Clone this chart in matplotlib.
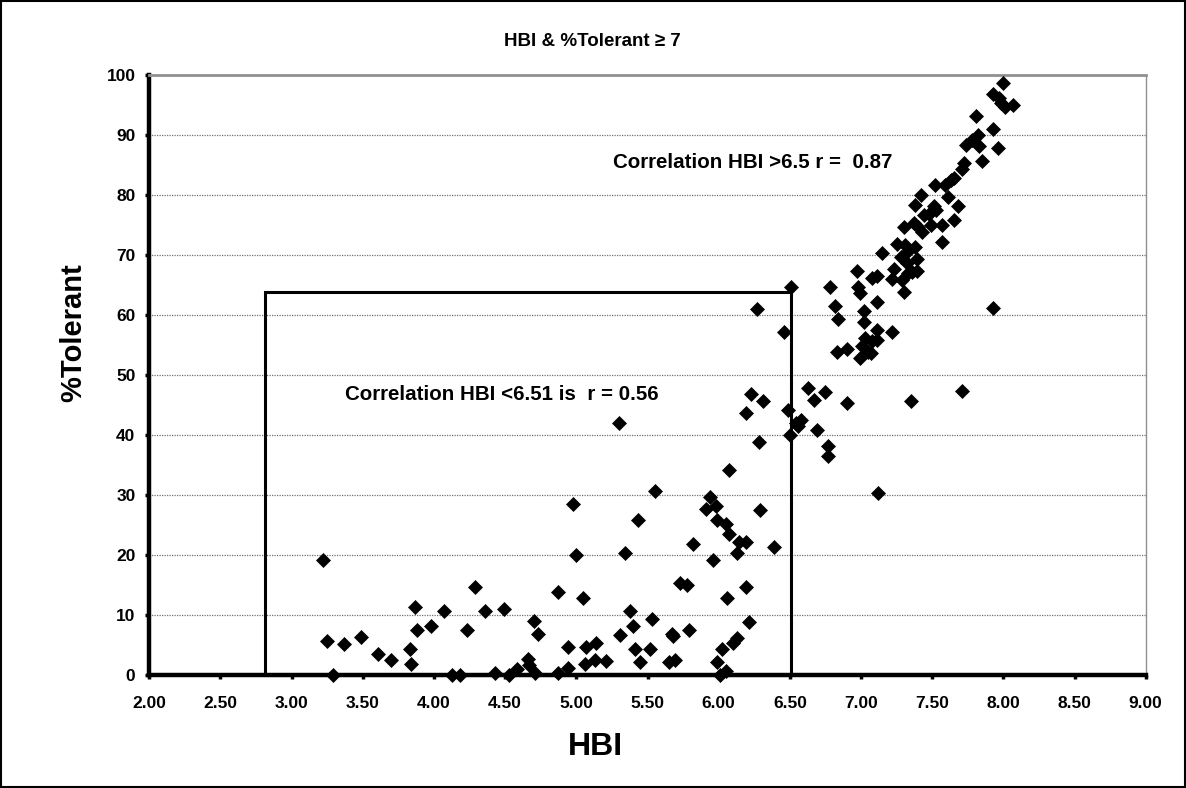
import matplotlib
matplotlib.use("Agg")
import matplotlib.pyplot as plt
from matplotlib.patches import Rectangle

plt.rcParams['font.family'] = ['Liberation Sans', 'DejaVu Sans']
plt.rcParams['font.weight'] = 'bold'

# ---- data ----
hbi = [3.22, 3.25, 3.29, 3.37, 3.49, 3.61, 3.70, 3.83, 3.84, 3.87, 3.88, 3.98, 4.07, 4.13, 4.18,
       4.23, 4.29, 4.36, 4.43, 4.49, 4.53, 4.58, 4.66, 4.67, 4.70, 4.71, 4.73, 4.87, 4.87, 4.94,
       4.94, 4.98, 5.00,
       5.05, 5.06, 5.07, 5.13, 5.14, 5.21, 5.30, 5.31, 5.34, 5.38, 5.40, 5.41, 5.43, 5.45, 5.52,
       5.53, 5.55, 5.65, 5.67, 5.68, 5.69, 5.73, 5.78, 5.79, 5.82, 5.91, 5.94, 5.96, 5.98, 5.99,
       5.99, 6.01, 6.02, 6.05, 6.05, 6.06, 6.07, 6.07, 6.10, 6.13, 6.13, 6.14, 6.19, 6.19, 6.19,
       6.21, 6.23, 6.27, 6.28, 6.29, 6.31, 6.39, 6.46, 6.49, 6.50, 6.51, 6.54, 6.56, 6.58, 6.63,
       6.67,
       6.69, 6.75, 6.77, 6.77, 6.78, 6.82, 6.84, 6.83, 6.90, 6.90, 6.97, 6.98, 6.99, 6.99, 7.01,
       7.02, 7.02, 7.03, 7.05, 7.07, 7.08, 7.08, 7.11, 7.11, 7.11, 7.11, 7.12, 7.15, 7.22, 7.22,
       7.23, 7.25, 7.28, 7.29, 7.30, 7.30, 7.31, 7.32, 7.33, 7.33, 7.35, 7.36, 7.37, 7.38, 7.38,
       7.39, 7.39, 7.40, 7.42, 7.43, 7.44, 7.48, 7.49, 7.51, 7.52, 7.53, 7.57, 7.57, 7.59, 7.61,
       7.63, 7.65, 7.65, 7.68, 7.71, 7.71, 7.72, 7.74, 7.78, 7.81, 7.82, 7.83, 7.85, 7.93, 7.93,
       7.93, 7.96, 7.97, 7.98, 8.00, 8.01, 8.07]
tolerant = [19.2, 5.7, 0.0, 5.2, 6.3, 3.5, 2.5, 4.3, 1.9, 11.4, 7.5, 8.1, 10.6, 0.0, 0.0,
            7.5, 14.6, 10.6, 0.3, 11.0, 0.0, 1.0, 2.7, 1.7, 9.0, 0.3, 6.9, 13.9, 0.3, 1.1,
            4.6, 28.5, 20.0,
            12.8, 1.8, 4.6, 2.5, 5.3, 2.4, 42.0, 6.7, 20.3, 10.7, 8.1, 4.3, 25.9, 2.1, 4.3,
            9.3, 30.7, 2.2, 6.9, 6.5, 2.5, 15.4, 15.0, 7.5, 21.8, 27.6, 29.6, 19.2, 28.2, 25.8,
            2.2, 0.0, 4.3, 25.2, 0.7, 12.8, 34.2, 23.5, 5.3, 6.1, 20.3, 22.1, 22.1, 14.6, 43.6,
            8.9, 46.8, 61.0, 38.9, 27.5, 45.7, 21.4, 57.1, 44.2, 40.0, 64.7, 42.0, 41.5, 42.5, 47.9,
            45.8,
            40.9, 47.1, 38.1, 36.5, 64.6, 61.5, 59.4, 53.9, 54.3, 45.3, 67.4, 64.6, 63.7, 52.8, 54.8,
            60.7, 58.9, 56.1, 53.9, 53.7, 55.6, 66.1, 57.5, 55.8, 62.1, 66.5, 30.4, 70.3, 57.1, 66.0,
            67.6, 71.9, 69.7, 65.8, 63.9, 74.7, 71.7, 68.6, 67.0, 70.6, 45.7, 67.2, 75.3, 71.4, 78.3,
            69.4, 67.4, 74.7, 80.0, 73.9, 76.7, 76.9, 75.0, 78.1, 81.7, 77.5, 75.0, 72.2, 81.7, 79.7,
            82.5, 82.8, 75.9, 78.1, 84.4, 47.4, 85.3, 88.3, 89.2, 93.2, 90.0, 88.2, 85.7, 96.9, 91.0,
            61.1, 87.8, 96.1, 95.3, 98.6, 94.7, 95.0]

x_ticks = [2.0, 2.5, 3.0, 3.5, 4.0, 4.5, 5.0, 5.5, 6.0, 6.5, 7.0, 7.5, 8.0, 8.5, 9.0]
y_ticks = [0, 10, 20, 30, 40, 50, 60, 70, 80, 90, 100]
box_x = [2.81, 6.51]
box_y = [0, 63.9]

W, H = 1186, 788
fig = plt.figure(figsize=(W / 100, H / 100), dpi=100)
fig.patches.append(Rectangle((0.001, 0.001), 0.998, 0.998, transform=fig.transFigure,
                             fill=False, ec='black', lw=1.5))

ax = fig.add_axes([149.3 / W, 1 - 675 / H, (1145.7 - 149.3) / W, 600 / H])
ax.set_xlim(2, 9)
ax.set_ylim(0, 100)

for yv in y_ticks[1:-1]:
    ax.axhline(yv, color='#707070', lw=0.9, ls=(0, (1, 1)), zorder=1)

ax.spines['left'].set_linewidth(3.2)
ax.spines['bottom'].set_linewidth(3.2)
ax.spines['top'].set_color('#909090')
ax.spines['top'].set_linewidth(2.0)
ax.spines['right'].set_color('#909090')
ax.spines['right'].set_linewidth(1.0)

ax.set_xticks(x_ticks)
ax.set_xticklabels(['%.2f' % v for v in x_ticks])
ax.set_yticks(y_ticks)
ax.set_yticklabels([str(v) for v in y_ticks])
ax.tick_params(axis='both', direction='out', width=2.5, length=3, labelsize=12.5)
ax.tick_params(axis='x', pad=12)
ax.tick_params(axis='y', pad=7)
for lab in ax.get_xticklabels() + ax.get_yticklabels():
    lab.set_fontweight('bold')

ax.add_patch(Rectangle((box_x[0], box_y[0]), box_x[1] - box_x[0], box_y[1] - box_y[0],
                       fill=False, ec='black', lw=2.2, zorder=2, clip_on=False))

ax.plot(hbi, tolerant, ls='none', marker='D', ms=7.0, mfc='black', mec='black', mew=0.5,
        zorder=3, clip_on=False)

fig.text(592 / W, 1 - 41 / H, 'HBI & %Tolerant \u2265 7', ha='center', va='center',
         fontsize=13.5, fontweight='bold')
fig.text(595 / W, 1 - 747 / H, 'HBI', ha='center', va='center', fontsize=23, fontweight='bold')
fig.text(73 / W, 1 - 333 / H, '%Tolerant', ha='center', va='center', rotation=90,
         fontsize=21, fontweight='bold')
fig.text(613 / W, 1 - 163 / H, 'Correlation HBI >6.5 r =  0.87', ha='left', va='center',
         fontsize=14.8, fontweight='bold')
fig.text(345 / W, 1 - 394 / H, 'Correlation HBI <6.51 is  r = 0.56', ha='left', va='center',
         fontsize=14.8, fontweight='bold')

fig.savefig('out.png', dpi=100)
